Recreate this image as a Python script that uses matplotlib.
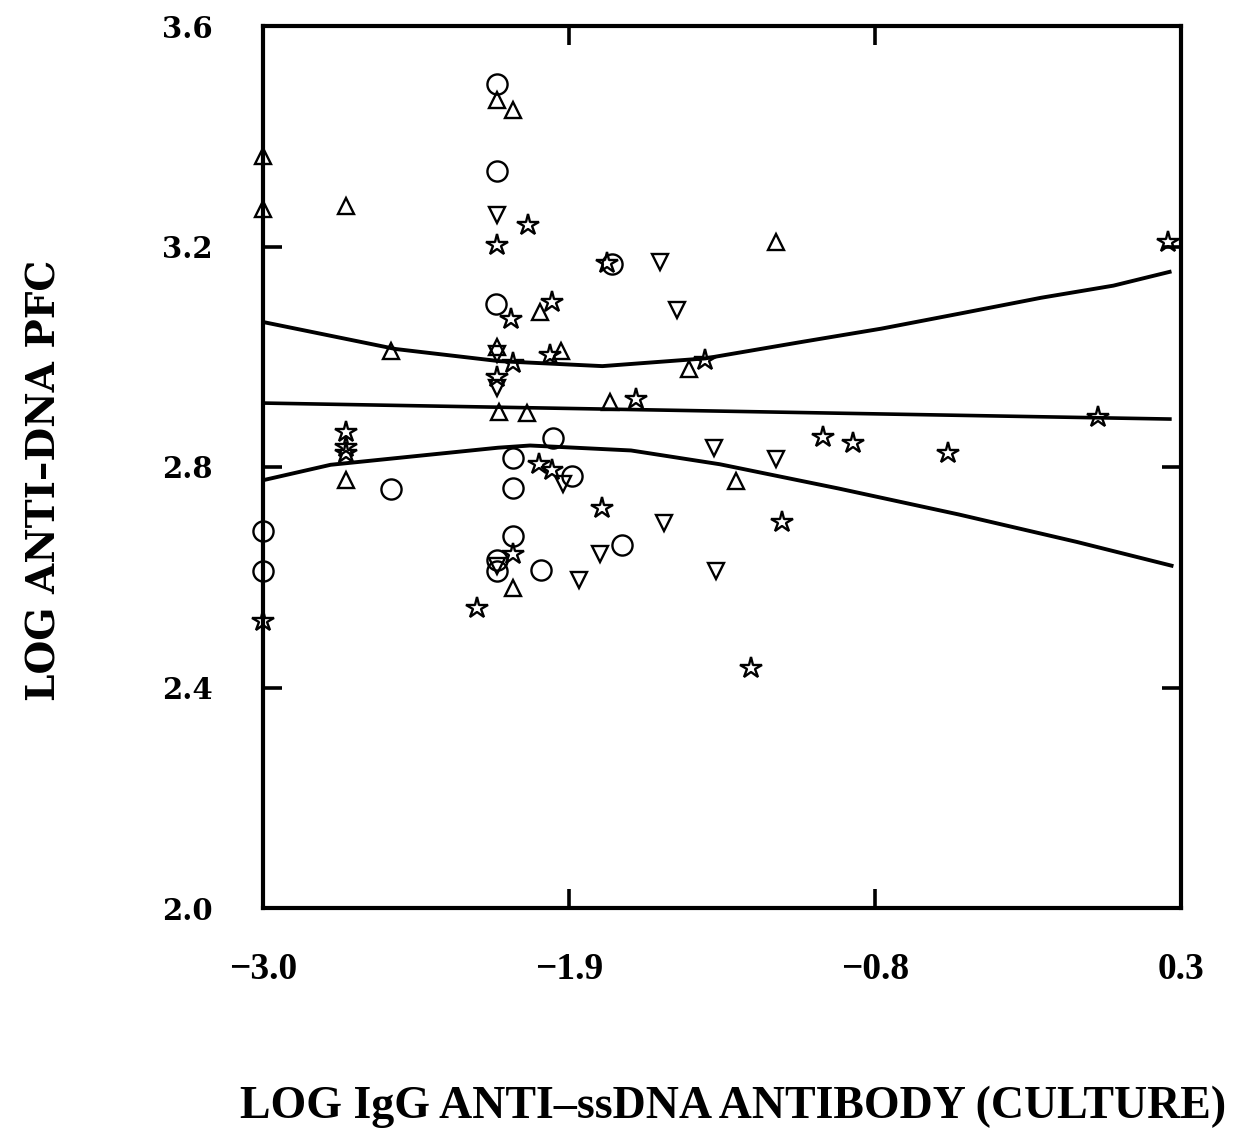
import matplotlib
matplotlib.use("Agg")
import matplotlib.pyplot as plt

# Scatter groups: (log IgG anti-ssDNA antibody, log anti-DNA PFC)
circle_x = [-2.16, -2.16, -1.744, -2.164, -1.957, -2.10, -1.89, -2.10, -2.10,
            -2.16, -2.16, -2.00, -1.71, -3.0, -3.0, -2.54]
circle_y = [3.494, 3.337, 3.168, 3.096, 2.853, 2.816, 2.783, 2.761, 2.674,
            2.631, 2.612, 2.613, 2.659, 2.684, 2.611, 2.760]

tri_up_x = [-3.0, -3.0, -2.70, -2.70, -2.54, -2.16, -2.10, -2.003, -2.16,
            -1.93, -2.15, -2.05, -1.753, -2.10, -1.157, -1.47, -1.30]
tri_up_y = [3.365, 3.268, 3.273, 2.776, 3.010, 3.465, 3.448, 3.082, 3.018,
            3.011, 2.899, 2.898, 2.918, 2.581, 3.208, 2.978, 2.775]

tri_dn_x = [-2.159, -2.16, -2.16, -1.92, -2.16, -1.79, -1.865, -1.572, -1.51,
            -1.378, -1.155, -1.56, -1.37]
tri_dn_y = [3.257, 3.005, 2.943, 2.770, 2.620, 2.642, 2.595, 3.172, 3.084,
            2.834, 2.814, 2.699, 2.611]

star_x = [-3.0, -2.70, -2.70, -2.70, -2.048, -2.16, -1.762, -2.11, -1.96,
          -2.10, -1.97, -2.16, -1.66, -2.008, -1.96, -1.78, -2.10, -2.23,
          -1.41, -1.135, -0.988, -0.88, -0.537, 0.00, -1.245, 0.254]
star_y = [2.520, 2.864, 2.837, 2.826, 3.239, 3.202, 3.170, 3.068, 3.099,
          2.988, 3.003, 2.963, 2.923, 2.806, 2.795, 2.725, 2.643, 2.544,
          2.994, 2.700, 2.854, 2.844, 2.826, 2.890, 2.435, 3.209]

# Regression line and its confidence band
fit_x = [-3.0, 0.26]
fit_y = [2.916, 2.887]

upper_x = [-2.99, -2.523, -2.15, -1.78, -1.41, -1.062, -0.777, -0.488, -0.203, 0.057, 0.259]
upper_y = [3.062, 3.014, 2.992, 2.983, 2.997, 3.027, 3.051, 3.079, 3.107, 3.129, 3.154]

lower_x = [-3.0, -2.757, -2.155, -2.04, -1.677, -1.358, -0.931, -0.50, -0.074, 0.266]
lower_y = [2.776, 2.804, 2.835, 2.839, 2.830, 2.805, 2.761, 2.714, 2.664, 2.621]

x_ticks = [-3.0, -1.9, -0.8, 0.3]
x_tick_labels = ["\u22123.0", "\u22121.9", "\u22120.8", "0.3"]
y_ticks = [2.0, 2.4, 2.8, 3.2, 3.6]
y_tick_labels = ["2.0", "2.4", "2.8", "3.2", "3.6"]

W, H = 1247, 1136
fig = plt.figure(figsize=(W / 100, H / 100), dpi=100)
left, right, top, bottom = 263, 1181, 26, 908
ax = fig.add_axes([left / W, 1 - bottom / H, (right - left) / W, (bottom - top) / H])

ax.set_xlim(-3.0, 0.3)
ax.set_ylim(2.0, 3.6)

mk = dict(linestyle="none", mfc="none", mec="black", mew=1.7, clip_on=False)
ax.plot(circle_x, circle_y, marker="o", markersize=14.5, **mk)
ax.plot(tri_up_x, tri_up_y, marker="^", markersize=12, **mk)
ax.plot(tri_dn_x, tri_dn_y, marker="v", markersize=12, **mk)
ax.plot(star_x, star_y, marker="*", markersize=16, **mk)

ax.plot(fit_x, fit_y, color="black", lw=2.6)
ax.plot(upper_x, upper_y, color="black", lw=2.8)
ax.plot(lower_x, lower_y, color="black", lw=2.8)

for s in ax.spines.values():
    s.set_linewidth(3.0)

ax.set_xticks(x_ticks)
ax.set_xticklabels(x_tick_labels)
ax.set_yticks(y_ticks)
ax.set_yticklabels(y_tick_labels)
ax.tick_params(axis="both", direction="in", length=14, width=2.6,
               top=True, right=True)
ax.tick_params(axis="x", pad=32)
ax.tick_params(axis="y", pad=36)

for lab in ax.get_xticklabels():
    lab.set_fontfamily("Liberation Serif")
    lab.set_fontweight("bold")
    lab.set_fontsize(27)
for lab in ax.get_yticklabels():
    lab.set_fontfamily("DejaVu Serif")
    lab.set_fontweight("bold")
    lab.set_fontsize(21)

ax.set_xlabel("LOG IgG ANTI\u2013ssDNA ANTIBODY (CULTURE)",
              fontfamily="Liberation Serif", fontweight="bold", fontsize=33)
ax.xaxis.set_label_coords(0.512, -0.2256)
ax.xaxis.label.set_va("center")
ax.set_ylabel("LOG ANTI\u2013DNA PFC",
              fontfamily="DejaVu Serif", fontweight="bold", fontsize=28)
ax.yaxis.set_label_coords(-0.2375, 0.485)
ax.yaxis.label.set_va("center")

fig.savefig("out.png", dpi=100, facecolor="white")
